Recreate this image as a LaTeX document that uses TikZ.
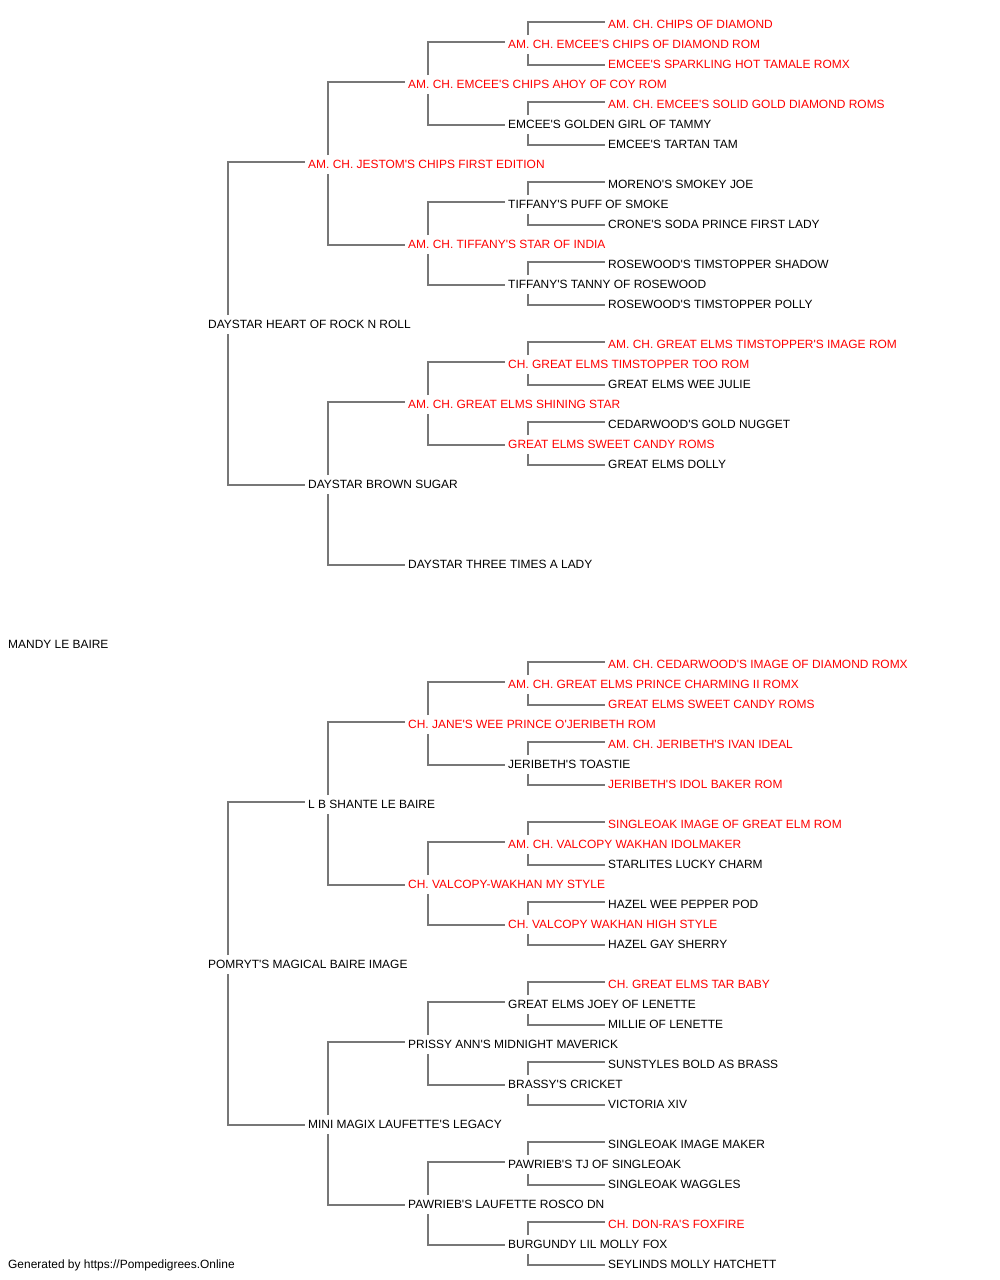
\documentclass[tikz,border=0pt]{standalone}
\usepackage{fontspec}
\setmainfont{Liberation Sans}[Ligatures=TeXOff]
\definecolor{lncol}{HTML}{777777}
\definecolor{champ}{HTML}{FF0000}
\tikzset{
  nm/.style={anchor=west, inner xsep=3pt, inner ysep=0pt, text height=8.6pt, text depth=0pt,
    font=\fontsize{11.95pt}{14pt}\selectfont, text=black},
  rd/.style={nm, text=champ},
  ln/.style={draw=lncol, line width=1.4pt},
}
\newcommand{\sirelink}[2]{\draw[ln] ([xshift=23pt,yshift=9pt]#1.west) |- ([yshift=2pt]#2.west);}
\newcommand{\damlink}[2]{\draw[ln] ([xshift=23pt,yshift=-10pt]#1.west) |- ([yshift=-1pt]#2.west);}
\begin{document}
\begin{tikzpicture}[x=1pt,y=-1pt]
\useasboundingbox (0,0) rectangle (1000,1280);
% Generation 0
\node[nm] (M) at (5,644) {MANDY LE BAIRE};
% Generation 1
\node[nm] (S) at (205,324) {DAYSTAR HEART OF ROCK N ROLL};
\node[nm] (D) at (205,964) {POMRYT'S MAGICAL BAIRE IMAGE};
% Generation 2
\node[rd] (SS) at (305,164) {AM. CH. JESTOM'S CHIPS FIRST EDITION};
\node[nm] (SD) at (305,484) {DAYSTAR BROWN SUGAR};
\node[nm] (DS) at (305,804) {L B SHANTE LE BAIRE};
\node[nm] (DD) at (305,1124) {MINI MAGIX LAUFETTE'S LEGACY};
% Generation 3
\node[rd] (SSS) at (405,84) {AM. CH. EMCEE'S CHIPS AHOY OF COY ROM};
\node[rd] (SSD) at (405,244) {AM. CH. TIFFANY'S STAR OF INDIA};
\node[rd] (SDS) at (405,404) {AM. CH. GREAT ELMS SHINING STAR};
\node[nm] (SDD) at (405,564) {DAYSTAR THREE TIMES A LADY};
\node[rd] (DSS) at (405,724) {CH. JANE'S WEE PRINCE O'JERIBETH ROM};
\node[rd] (DSD) at (405,884) {CH. VALCOPY-WAKHAN MY STYLE};
\node[nm] (DDS) at (405,1044) {PRISSY ANN'S MIDNIGHT MAVERICK};
\node[nm] (DDD) at (405,1204) {PAWRIEB'S LAUFETTE ROSCO DN};
% Generation 4
\node[rd] (SSSS) at (505,44) {AM. CH. EMCEE'S CHIPS OF DIAMOND ROM};
\node[nm] (SSSD) at (505,124) {EMCEE'S GOLDEN GIRL OF TAMMY};
\node[nm] (SSDS) at (505,204) {TIFFANY'S PUFF OF SMOKE};
\node[nm] (SSDD) at (505,284) {TIFFANY'S TANNY OF ROSEWOOD};
\node[rd] (SDSS) at (505,364) {CH. GREAT ELMS TIMSTOPPER TOO ROM};
\node[rd] (SDSD) at (505,444) {GREAT ELMS SWEET CANDY ROMS};
\node[rd] (DSSS) at (505,684) {AM. CH. GREAT ELMS PRINCE CHARMING II ROMX};
\node[nm] (DSSD) at (505,764) {JERIBETH'S TOASTIE};
\node[rd] (DSDS) at (505,844) {AM. CH. VALCOPY WAKHAN IDOLMAKER};
\node[rd] (DSDD) at (505,924) {CH. VALCOPY WAKHAN HIGH STYLE};
\node[nm] (DDSS) at (505,1004) {GREAT ELMS JOEY OF LENETTE};
\node[nm] (DDSD) at (505,1084) {BRASSY'S CRICKET};
\node[nm] (DDDS) at (505,1164) {PAWRIEB'S TJ OF SINGLEOAK};
\node[nm] (DDDD) at (505,1244) {BURGUNDY LIL MOLLY FOX};
% Generation 5
\node[rd] (SSSSS) at (605,24) {AM. CH. CHIPS OF DIAMOND};
\node[rd] (SSSSD) at (605,64) {EMCEE'S SPARKLING HOT TAMALE ROMX};
\node[rd] (SSSDS) at (605,104) {AM. CH. EMCEE'S SOLID GOLD DIAMOND ROMS};
\node[nm] (SSSDD) at (605,144) {EMCEE'S TARTAN TAM};
\node[nm] (SSDSS) at (605,184) {MORENO'S SMOKEY JOE};
\node[nm] (SSDSD) at (605,224) {CRONE'S SODA PRINCE FIRST LADY};
\node[nm] (SSDDS) at (605,264) {ROSEWOOD'S TIMSTOPPER SHADOW};
\node[nm] (SSDDD) at (605,304) {ROSEWOOD'S TIMSTOPPER POLLY};
\node[rd] (SDSSS) at (605,344) {AM. CH. GREAT ELMS TIMSTOPPER'S IMAGE ROM};
\node[nm] (SDSSD) at (605,384) {GREAT ELMS WEE JULIE};
\node[nm] (SDSDS) at (605,424) {CEDARWOOD'S GOLD NUGGET};
\node[nm] (SDSDD) at (605,464) {GREAT ELMS DOLLY};
\node[rd] (DSSSS) at (605,664) {AM. CH. CEDARWOOD'S IMAGE OF DIAMOND ROMX};
\node[rd] (DSSSD) at (605,704) {GREAT ELMS SWEET CANDY ROMS};
\node[rd] (DSSDS) at (605,744) {AM. CH. JERIBETH'S IVAN IDEAL};
\node[rd] (DSSDD) at (605,784) {JERIBETH'S IDOL BAKER ROM};
\node[rd] (DSDSS) at (605,824) {SINGLEOAK IMAGE OF GREAT ELM ROM};
\node[nm] (DSDSD) at (605,864) {STARLITES LUCKY CHARM};
\node[nm] (DSDDS) at (605,904) {HAZEL WEE PEPPER POD};
\node[nm] (DSDDD) at (605,944) {HAZEL GAY SHERRY};
\node[rd] (DDSSS) at (605,984) {CH. GREAT ELMS TAR BABY};
\node[nm] (DDSSD) at (605,1024) {MILLIE OF LENETTE};
\node[nm] (DDSDS) at (605,1064) {SUNSTYLES BOLD AS BRASS};
\node[nm] (DDSDD) at (605,1104) {VICTORIA XIV};
\node[nm] (DDDSS) at (605,1144) {SINGLEOAK IMAGE MAKER};
\node[nm] (DDDSD) at (605,1184) {SINGLEOAK WAGGLES};
\node[rd] (DDDDS) at (605,1224) {CH. DON-RA'S FOXFIRE};
\node[nm] (DDDDD) at (605,1264) {SEYLINDS MOLLY HATCHETT};
% Footer
\node[nm] (foot) at (5,1264) {Generated by https://Pompedigrees.Online};
% Connectors
\foreach \p in {S,D,SS,SD,DS,DD,SSS,SSD,SDS,DSS,DSD,DDS,DDD,SSSS,SSSD,SSDS,SSDD,SDSS,SDSD,DSSS,DSSD,DSDS,DSDD,DDSS,DDSD,DDDS,DDDD}{
  \sirelink{\p}{\p S}
  \damlink{\p}{\p D}
}
\end{tikzpicture}
\end{document}
